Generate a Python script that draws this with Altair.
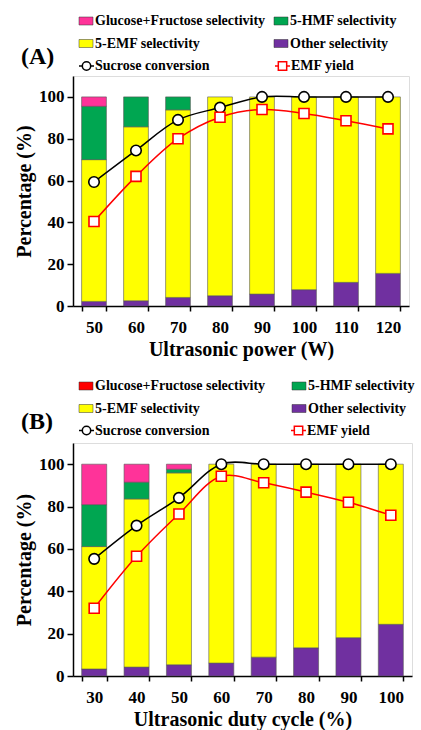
import altair as alt
import pandas as pd

FONT = "Liberation Serif"

series = ["Other selectivity", "5-EMF selectivity", "5-HMF selectivity", "Glucose+Fructose selectivity"]
series_colors = ["#7030A0", "#FFFF00", "#00A651", "#FF3399"]

# Panel A: ultrasonic power (W)
cats_a = ["50", "60", "70", "80", "90", "100", "110", "120"]
other_a = [2.2, 2.5, 4.1, 4.9, 5.7, 7.8, 11.3, 15.6]
emf_a = [67.8, 83.2, 89.7, 95.1, 94.3, 92.2, 88.7, 84.4]
hmf_a = [25.5, 14.3, 6.2, 0, 0, 0, 0, 0]
gf_a = [4.5, 0, 0, 0, 0, 0, 0, 0]
conv_a = [59.3, 74.4, 89.0, 94.9, 100, 100, 100, 100]
yield_a = [40.4, 62.0, 80.0, 90.3, 94.0, 92.1, 88.6, 84.7]

# Panel B: ultrasonic duty cycle (%)
cats_b = ["30", "40", "50", "60", "70", "80", "90", "100"]
other_b = [3.3, 4.2, 5.3, 6.1, 8.9, 13.3, 18.1, 24.4]
emf_b = [57.8, 79.4, 90.6, 93.9, 91.1, 86.7, 81.9, 75.6]
hmf_b = [19.8, 7.9, 1.7, 0, 0, 0, 0, 0]
gf_b = [19.1, 8.5, 2.4, 0, 0, 0, 0, 0]
conv_b = [55.3, 71.0, 84.1, 100, 100, 100, 100, 100]
yield_b = [32.0, 56.5, 76.5, 94.3, 91.2, 86.8, 82.0, 75.9]

one = pd.DataFrame({"k": [0]})


def swatch(x, y, color):
    return alt.Chart(one).mark_rect(fill=color, stroke="#333333", strokeWidth=0.5).encode(
        x=alt.value(x), x2=alt.value(x + 14), y=alt.value(y - 4), y2=alt.value(y + 4))


def label(x, y, text, size=14):
    return alt.Chart(one).mark_text(text=text, align="left", baseline="middle", font=FONT,
                                    fontWeight="bold", fontSize=size, color="black").encode(
        x=alt.value(x), y=alt.value(y))


def line_symbol(x, y, color, shape):
    r = alt.Chart(one).mark_rule(color=color, strokeWidth=1.5).encode(
        x=alt.value(x), x2=alt.value(x + 15), y=alt.value(y))
    p = alt.Chart(one).mark_point(shape=shape, filled=True, fill="white", stroke=color,
                                  strokeWidth=1.5, size=70, opacity=1).encode(
        x=alt.value(x + 7.5), y=alt.value(y))
    return [r, p]


def panel(cats, other, emf, hmf, gf, conv, yld, xtitle, tag, gf_leg_color, width, height, rows_y, col2_x, col2_sym_x):
    rows = []
    for i, c in enumerate(cats):
        for k, vals in enumerate([other, emf, hmf, gf]):
            if vals[i] > 0:
                rows.append({"cat": c, "series": series[k], "value": vals[i], "order": k})
    bars_df = pd.DataFrame(rows)
    lines_df = pd.DataFrame({"cat": cats, "conv": conv, "yield": yld})

    xaxis = alt.Axis(title=xtitle, labelAngle=0, tickBand="extent", tickSize=5, tickColor="black",
                     tickWidth=1.5, domainColor="black", domainWidth=1.5,
                     labelFont=FONT, labelFontWeight="bold", labelFontSize=17, labelColor="black",
                     labelPadding=8, titleFont=FONT, titleFontWeight="bold", titleFontSize=20,
                     titleColor="black", titlePadding=4)
    yaxis = alt.Axis(title="Percentage (%)", values=list(range(0, 101, 10)),
                     labelExpr="datum.value % 20 == 0 ? datum.label : ''",
                     tickSize={"condition": {"test": "datum.value % 20 == 0", "value": 6}, "value": 3},
                     tickColor="black", tickWidth=1.5, domainColor="black", domainWidth=1.5,
                     labelFont=FONT, labelFontWeight="bold", labelFontSize=17, labelColor="black",
                     labelPadding=3, titleFont=FONT, titleFontWeight="bold", titleFontSize=20,
                     titleColor="black", titlePadding=4, grid=False)
    xscale = alt.Scale(paddingInner=0.41, paddingOuter=0.205)
    yscale = alt.Scale(domain=[0, 110], nice=False)

    bars = alt.Chart(bars_df).mark_bar(stroke="#555555", strokeWidth=0.6).encode(
        x=alt.X("cat:N", sort=cats, scale=xscale, axis=xaxis),
        y=alt.Y("value:Q", stack="zero", scale=yscale, axis=yaxis),
        color=alt.Color("series:N", scale=alt.Scale(domain=series, range=series_colors), legend=None),
        order=alt.Order("order:Q"),
    )
    base = alt.Chart(lines_df).encode(x=alt.X("cat:N", sort=cats))
    conv_line = base.mark_line(color="black", strokeWidth=1.5, interpolate="catmull-rom").encode(y="conv:Q")
    yld_line = base.mark_line(color="#FF0000", strokeWidth=1.5, interpolate="catmull-rom").encode(y="yield:Q")
    conv_pts = base.mark_point(shape="circle", filled=True, fill="white", stroke="black",
                               strokeWidth=1.6, size=110, opacity=1).encode(y="conv:Q")
    yld_pts = base.mark_point(shape="square", filled=True, fill="white", stroke="#FF0000",
                              strokeWidth=1.6, size=100, opacity=1).encode(y="yield:Q")

    r1, r2, r3 = rows_y
    leg = [
        swatch(6, r1, gf_leg_color), label(22, r1, "Glucose+Fructose selectivity"),
        swatch(col2_x - 16, r1, series_colors[2]), label(col2_x, r1, "5-HMF selectivity"),
        swatch(6, r2, series_colors[1]), label(22, r2, "5-EMF selectivity"),
        swatch(col2_x - 16, r2, series_colors[0]), label(col2_x, r2, "Other selectivity"),
        label(22, r3, "Sucrose conversion"),
        label(col2_sym_x + 16, r3, "EMF yield"),
        label(-52, r2 + 13, tag, size=24),
    ]
    leg += line_symbol(6, r3, "black", "circle")
    leg += line_symbol(col2_sym_x, r3, "#FF0000", "square")

    return alt.layer(bars, conv_line, yld_line, conv_pts, yld_pts, *leg).properties(
        width=width, height=height)


pa = panel(cats_a, other_a, emf_a, hmf_a, gf_a, conv_a, yield_a, "Ultrasonic power (W)", "(A)",
           "#FF3399", 336, 230, (-55, -32.5, -10), 217, 202)
pb = panel(cats_b, other_b, emf_b, hmf_b, gf_b, conv_b, yield_b, "Ultrasonic duty cycle (%)", "(B)",
           "#FF0000", 339, 233, (-57, -34.5, -12.5), 235, 218)

chart = alt.vconcat(pa, pb, spacing=137, bounds="flush").properties(
    padding={"top": 13, "left": 14, "right": 0, "bottom": 0}
).configure_view(stroke="black", strokeWidth=1.5).configure(background="white")

chart.save("out.html", embed_options={"renderer": "svg", "actions": False})
